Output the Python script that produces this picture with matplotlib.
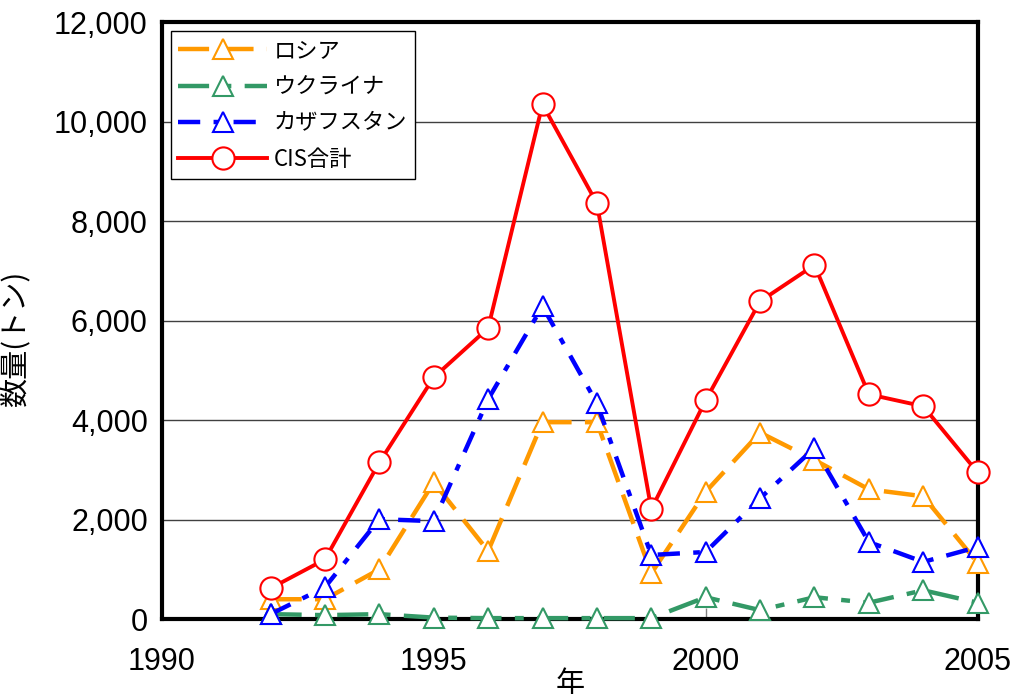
#! /usr/bin/env python
# CIS exports chart - recreated with matplotlib

import matplotlib
matplotlib.use('Agg')
import matplotlib.pyplot as plt
from matplotlib.ticker import FuncFormatter, MultipleLocator

# Data
years = [1992, 1993, 1994, 1995, 1996, 1997, 1998, 1999, 2000, 2001, 2002, 2003, 2004, 2005]
russia = [400, 400, 1000, 2750, 1370, 3960, 3960, 920, 2560, 3750, 3200, 2610, 2470, 1130]
ukraine = [100, 80, 100, 30, 20, 20, 20, 20, 440, 180, 440, 330, 580, 330]
kazakhstan = [100, 640, 2010, 1970, 4420, 6290, 4340, 1290, 1350, 2430, 3440, 1550, 1150, 1450]
cis_total = [620, 1200, 3150, 4860, 5850, 10350, 8360, 2210, 4400, 6390, 7120, 4520, 4280, 2950]

labels = ['ロシア', 'ウクライナ', 'カザフスタン', 'CIS合計']
x_ticks = [1990, 1995, 2000, 2005]

num_font = ['Liberation Sans Narrow', 'Liberation Sans', 'DejaVu Sans']
jp_font = ['Noto Sans CJK JP', 'DejaVu Sans']
plt.rcParams['font.family'] = ['Liberation Sans', 'Noto Sans CJK JP']

fig = plt.figure(figsize=(10.11, 6.98), dpi=100)
ax = fig.add_axes([0.160, 0.113, 0.807, 0.855])

tri = dict(marker='^', markersize=15, markerfacecolor='white', markeredgewidth=1.5, clip_on=False)
ax.plot(years, russia, color='#FF9900', lw=3.2, ls=(0, (7, 3)), label=labels[0], zorder=3, **tri)
ax.plot(years, ukraine, color='#339966', lw=3.2, ls=(0, (7, 3, 2, 3)), label=labels[1], zorder=4, **tri)
ax.plot(years, kazakhstan, color='#0000FF', lw=3.2, ls=(0, (5, 3, 1.5, 3)), label=labels[2], zorder=5, **tri)
ax.plot(years, cis_total, color='#FF0000', lw=2.8, marker='o', markersize=16,
        markerfacecolor='white', markeredgewidth=1.5, label=labels[3], zorder=6, clip_on=False)

# axes
ax.set_xlim(1990, 2005)
ax.set_ylim(0, 12000)
ax.set_xticks(x_ticks)
ax.yaxis.set_major_locator(MultipleLocator(2000))
ax.yaxis.set_major_formatter(FuncFormatter(lambda v, p: f'{int(v):,}'))
ax.grid(axis='y', color='#404040', lw=1)
ax.set_axisbelow(True)
for s in ax.spines.values():
    s.set_linewidth(3)
    s.set_color('black')
ax.tick_params(axis='x', direction='in', length=8, color='gray', width=1, pad=20)
ax.tick_params(axis='y', length=0, pad=10)
for t in ax.get_xticklabels() + ax.get_yticklabels():
    t.set_family(num_font)
    t.set_fontsize(22)

ax.set_ylabel('数量(トン)', family=jp_font, fontsize=21)
ax.yaxis.set_label_coords(-0.16, 0.47)
ax.set_xlabel('年', family=jp_font, fontsize=21, labelpad=-6)

leg = ax.legend(loc='upper left', bbox_to_anchor=(0.0, 1.0), borderaxespad=0.4,
                prop={'family': jp_font, 'size': 16}, fancybox=False, framealpha=1,
                edgecolor='black', handlelength=4, handletextpad=0.3,
                labelspacing=0.6, borderpad=0.35, numpoints=1)
leg.get_frame().set_linewidth(1)
leg.set_zorder(10)

plt.savefig('out.png', dpi=100)
